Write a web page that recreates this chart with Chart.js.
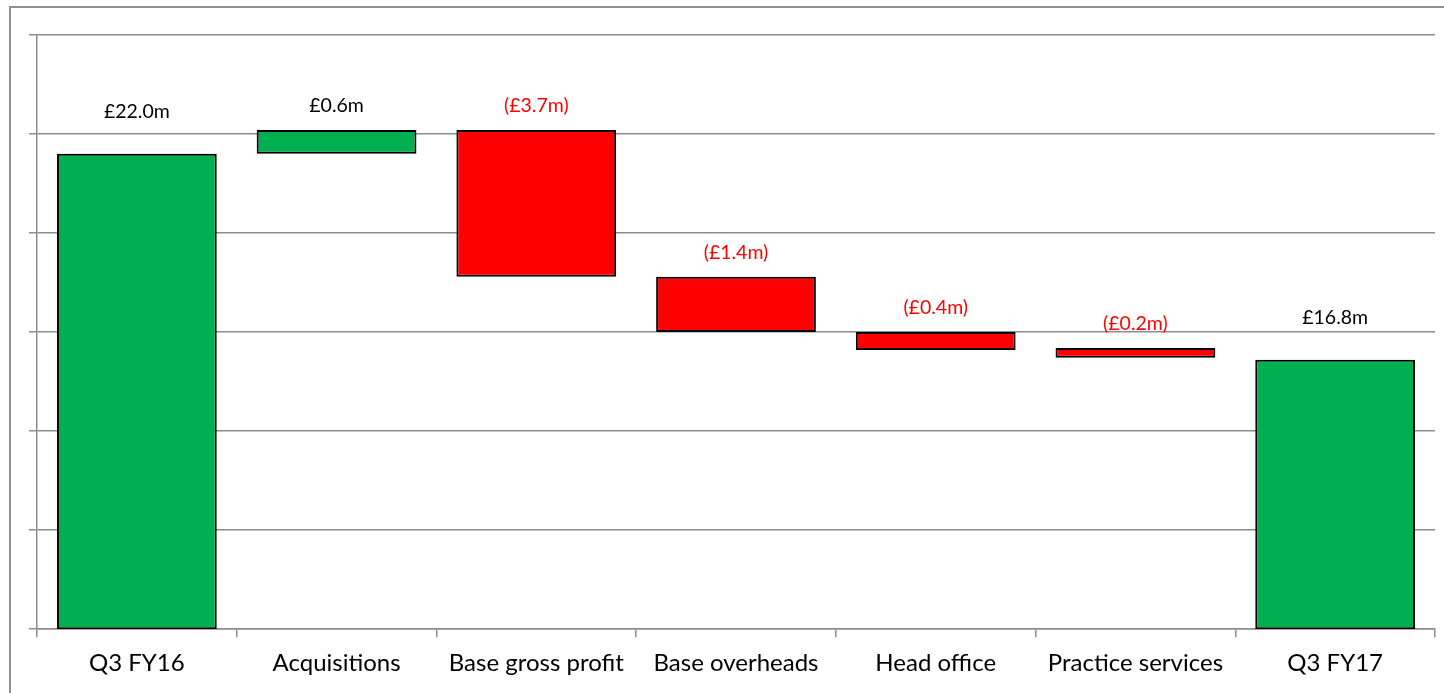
<!DOCTYPE html>
<html>
<head>
<meta charset="utf-8">
<script src="https://cdn.jsdelivr.net/npm/chart.js@4.4.1/dist/chart.umd.min.js"></script>
<style>
  html, body { margin: 0; padding: 0; background: #fff; }
  #wrap { width: 1444px; height: 693px; position: relative; }
</style>
</head>
<body>
<div id="wrap"><canvas id="grafico"></canvas></div>
<script>
// waterfall: cada barra flota entre lows[i] y highs[i] (en £m)
const categories = ["Q3 FY16", "Acquisitions", "Base gross profit", "Base overheads", "Head office", "Practice services", "Q3 FY17"];
const lows  = [10, 22.0, 18.9, 17.5, 17.05, 16.85, 10];
const highs = [22.0, 22.6, 22.6, 18.9, 17.5, 17.1, 16.8];
const labelsTxt = ["£22.0m", "£0.6m", "(£3.7m)", "(£1.4m)", "(£0.4m)", "(£0.2m)", "£16.8m"];
const kinds = ["total", "up", "down", "down", "down", "down", "total"];

const GREEN = "#00B050", RED = "#FF0000", GRID = "#8c8c8c";
const FONT = "Lato, 'Open Sans', sans-serif";

const frame = {
  id: "frame",
  beforeDraw(chart){
    const c = chart.ctx;
    c.save();
    c.strokeStyle = "#8f8f8f";
    c.lineWidth = 2;
    c.beginPath();
    c.moveTo(10, 700); c.lineTo(10, 7); c.lineTo(1450, 7);
    c.stroke();
    c.restore();
  }
};

const barLabels = {
  id: "barLabels",
  afterDatasetsDraw(chart){
    const c = chart.ctx;
    const y = chart.scales.y;
    const meta = chart.getDatasetMeta(0);
    c.save();
    c.font = "19.5px " + FONT;
    c.textAlign = "center";
    c.textBaseline = "middle";
    meta.data.forEach((bar, i) => {
      const top = y.getPixelForValue(highs[i]);
      const off = kinds[i] === "total" ? 42 : 24;
      c.fillStyle = kinds[i] === "down" ? RED : "#000";
      c.fillText(labelsTxt[i], bar.x, top - off);
    });
    c.restore();
  }
};

new Chart(document.getElementById("grafico"), {
  type: "bar",
  data: {
    labels: categories,
    datasets: [{
      data: categories.map((_, i) => [lows[i], highs[i]]),
      backgroundColor: kinds.map(k => k === "down" ? RED : GREEN),
      borderColor: "#000",
      borderWidth: 2,
      borderSkipped: false,
      barPercentage: 0.8,
      categoryPercentage: 1.0
    }]
  },
  options: {
    responsive: true,
    maintainAspectRatio: false,
    animation: false,
    layout: { padding: { left: 29, top: 35, right: 9, bottom: 3 } },
    plugins: { legend: { display: false }, tooltip: { enabled: false } },
    scales: {
      x: {
        grid: { offset: true, drawOnChartArea: false, color: GRID, lineWidth: 1.5, tickLength: 8 },
        border: { color: GRID, width: 1.5 },
        ticks: { color: "#000", font: { family: FONT, size: 24 }, padding: 12 }
      },
      y: {
        min: 10, max: 25,
        ticks: { display: false, stepSize: 2.5 },
        grid: { color: GRID, lineWidth: 1.5, tickLength: 8 },
        border: { color: GRID, width: 1.5 }
      }
    }
  },
  plugins: [frame, barLabels]
});
</script>
</body>
</html>
